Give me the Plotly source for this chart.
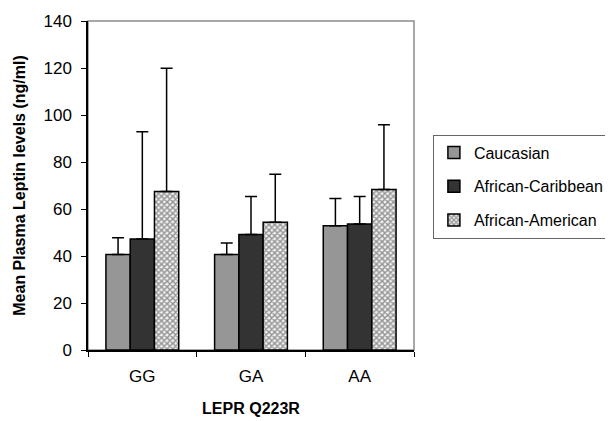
import plotly.graph_objects as go

categories = ["GG", "GA", "AA"]
series_names = ["Caucasian", "African-Caribbean", "African-American"]
caucasian = [40.6, 40.6, 52.9]
caucasian_err = [7.2, 4.9, 11.6]
afr_caribbean = [47.2, 49.2, 53.6]
afr_caribbean_err = [45.7, 16.1, 11.7]
afr_american = [67.5, 54.4, 68.3]
afr_american_err = [52.4, 20.4, 27.6]

FONT = "Arial, Liberation Sans, sans-serif"

fig = go.Figure()

styles = [
    dict(color="#969696"),
    dict(color="#333333"),
    dict(color="white", pattern=dict(shape="x", fgcolor="#333333", bgcolor="#f2f2f2", size=4, solidity=0.6)),
]
vals = [caucasian, afr_caribbean, afr_american]
errs = [caucasian_err, afr_caribbean_err, afr_american_err]

for i, name in enumerate(series_names):
    marker = dict(line=dict(color="black", width=1.5))
    marker.update(styles[i])
    fig.add_trace(go.Bar(
        x=categories, y=vals[i], name=name, marker=marker,
        legendgroup=name,
        error_y=dict(type="data", symmetric=False, array=errs[i], arrayminus=[0, 0, 0],
                     color="black", thickness=1.5, width=6),
    ))

fig.add_shape(type="rect", xref="paper", yref="paper", x0=0, x1=1, y0=0, y1=1,
              line=dict(color="#8c8c8c", width=1.5), layer="below")

# page body adds an 8px offset, so the figure is 605x413
fig.update_layout(
    width=605, height=413,
    margin=dict(l=80, r=199, t=13, b=71, autoexpand=False),
    paper_bgcolor="white", plot_bgcolor="white",
    barmode="group", bargap=0.33, bargroupgap=0,
    font=dict(family=FONT, size=16, color="black"),
    legend=dict(x=1.058, y=0.655, xanchor="left", yanchor="top",
                bordercolor="#666666", borderwidth=1, bgcolor="white",
                font=dict(size=16), traceorder="grouped", tracegroupgap=10,
                itemwidth=30),
    xaxis=dict(showline=True, linecolor="black", linewidth=1.5, automargin=False,
               ticks="outside", tickson="boundaries", ticklen=5, tickcolor="black",
               ticklabelstandoff=10,
               title=dict(text="<b>LEPR Q223R</b>", font=dict(size=16), standoff=18),
               tickfont=dict(size=17)),
    yaxis=dict(range=[0, 140], dtick=20, showline=True, linecolor="black", linewidth=1.5,
               automargin=False, ticklabelstandoff=6,
               ticks="outside", ticklen=5, tickcolor="black", showgrid=False, zeroline=False,
               title=dict(text="<b>Mean Plasma Leptin levels (ng/ml)</b>", font=dict(size=16), standoff=14),
               tickfont=dict(size=17)),
)

fig.write_html("out.html")
